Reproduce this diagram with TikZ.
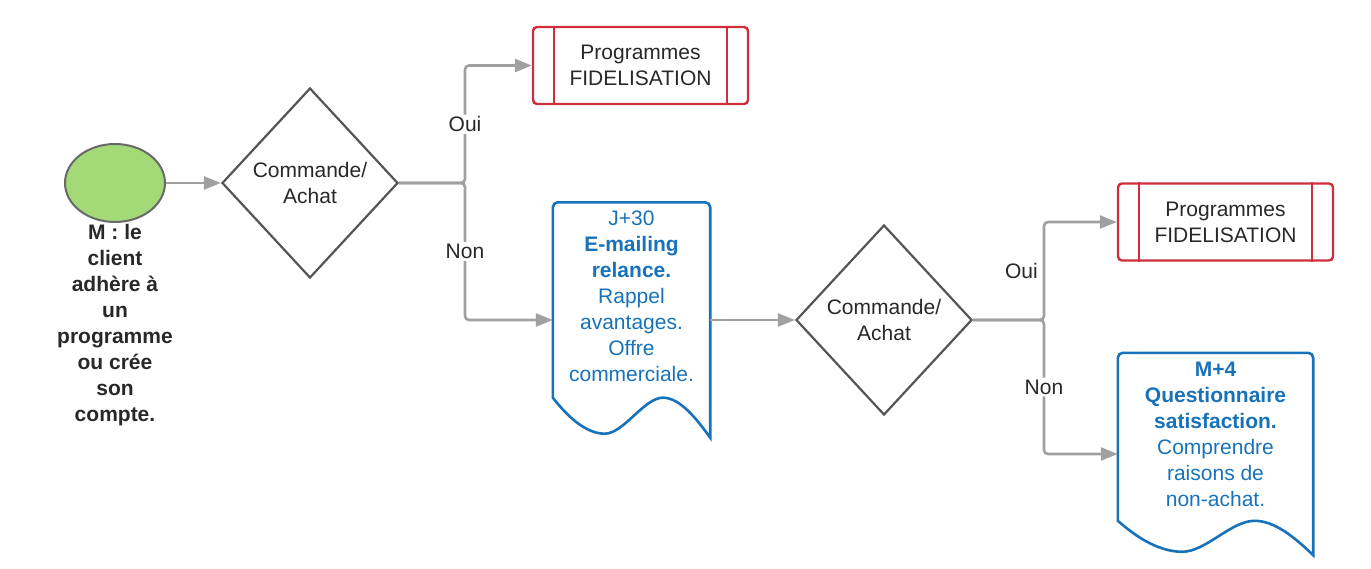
\documentclass[tikz,border=0pt]{standalone}
\usepackage{fontspec}
\setmainfont{Liberation Sans}
\usetikzlibrary{shapes.geometric, arrows.meta, positioning, calc}

\definecolor{flowgray}{RGB}{160,160,160}
\definecolor{diagray}{RGB}{85,85,85}
\definecolor{fidred}{RGB}{208,46,60}
\definecolor{docblue}{RGB}{24,114,186}
\definecolor{startgreen}{RGB}{163,217,119}
\definecolor{startgray}{RGB}{105,105,105}
\definecolor{textdark}{RGB}{40,40,40}

\tikzset{
  flow/.style={draw=flowgray, line width=2.6pt, rounded corners=4pt, -{Triangle[length=17pt,width=13pt]}},
  startnode/.style={ellipse, draw=startgray, line width=2pt, fill=startgreen, minimum width=100pt, minimum height=78pt},
  starttext/.style={align=center, inner sep=0pt, text=textdark, font=\fontsize{21}{26}\selectfont\bfseries},
  decision/.style={diamond, draw=diagray, line width=2.2pt, minimum width=176pt, minimum height=190pt, inner sep=0pt, align=center, text=textdark},
  fidbox/.style={rectangle, draw=fidred, line width=2.4pt, rounded corners=4pt, minimum width=215pt, minimum height=77pt, align=center, text=textdark},
  fidline/.style={draw=fidred, line width=2.4pt},
  docbox/.style={inner sep=0pt, text=docblue},
  docline/.style={draw=docblue, line width=2.6pt},
  lbl/.style={fill=white, inner sep=2pt, text=textdark}
}

% wavy document outline around a node
\newcommand{\docoutline}[1]{%
  \draw[docline] let \p1=(#1.north west), \p2=(#1.south east),
    \n1={\x2-\x1}, \n2={0.17*(\y1-\y2)} in
    (\x1,\y2+\n2) [rounded corners=5pt] -- (\x1,\y1) -- (\x2,\y1) [sharp corners] -- (\x2,\y2)
    .. controls (\x2-0.1*\n1,\y2+0.55*\n2) and (\x1+0.8*\n1,\y2+\n2) .. (\x1+0.7*\n1,\y2+\n2)
    .. controls (\x1+0.58*\n1,\y2+\n2) and (\x1+0.45*\n1,\y2+0.1*\n2) .. (\x1+0.33*\n1,\y2+0.1*\n2)
    .. controls (\x1+0.2*\n1,\y2+0.1*\n2) and (\x1+0.08*\n1,\y2+0.6*\n2) .. (\x1,\y2+\n2) -- cycle;}

\begin{document}
\begin{tikzpicture}[x=1pt, y=-1pt, font=\fontsize{21}{26}\selectfont]
    \useasboundingbox (0,0) rectangle (1371,568);

    \node[startnode] (start) at (115,183) {};
    \node[starttext, below=1pt of start] (startlbl) {M : le\\client\\adhère à\\un\\programme\\ou crée\\son\\compte.};

    \node[decision] (dia) at (310,183) {Commande/\\Achat};
    \node[fidbox] (fida) at (640.5,65.5) {Programmes\\FIDELISATION};
    \node[docbox] (doca) at (631.5,320) {\parbox[c][235pt][t]{157pt}{\centering\vspace*{8pt}J+30\\\textbf{E-mailing}\\\textbf{relance.}\\Rappel\\avantages.\\Offre\\commerciale.}};

    \node[decision] (dib) at (884,320) {Commande/\\Achat};
    \node[fidbox] (fidb) at (1225.5,222) {Programmes\\FIDELISATION};
    \node[docbox] (docb) at (1215.5,454) {\parbox[c][202pt][t]{195pt}{\centering\vspace*{9pt}\textbf{M+4}\\\textbf{Questionnaire}\\\textbf{satisfaction.}\\Comprendre\\raisons de\\non-achat.}};

    \foreach \b in {fida, fidb} {
        \draw[fidline] ([xshift=22pt]\b.north west) -- ([xshift=22pt]\b.south west);
        \draw[fidline] ([xshift=-22pt]\b.north east) -- ([xshift=-22pt]\b.south east);
    }
    \docoutline{doca}
    \docoutline{docb}

    \coordinate (ja) at (465,183);
    \coordinate (jb) at (1044,320);

    \draw[flow] (start.east) -- (dia.west);
    \draw[flow] (dia.east) -- (ja) |- node[lbl, pos=0.25] (ouia) {Oui} (fida.west);
    \draw[flow] (dia.east) -- (ja) |- node[lbl, pos=0.25] (nona) {Non} (doca.west);
    \draw[flow] (doca.east) -- (dib.west);
    \draw[flow] (dib.east) -- (jb) |- node[lbl, pos=0.25, left=3pt] (ouib) {Oui} (fidb.west);
    \draw[flow] (dib.east) -- (jb) |- node[lbl, pos=0.25] (nonb) {Non} (docb.west);
\end{tikzpicture}
\end{document}
